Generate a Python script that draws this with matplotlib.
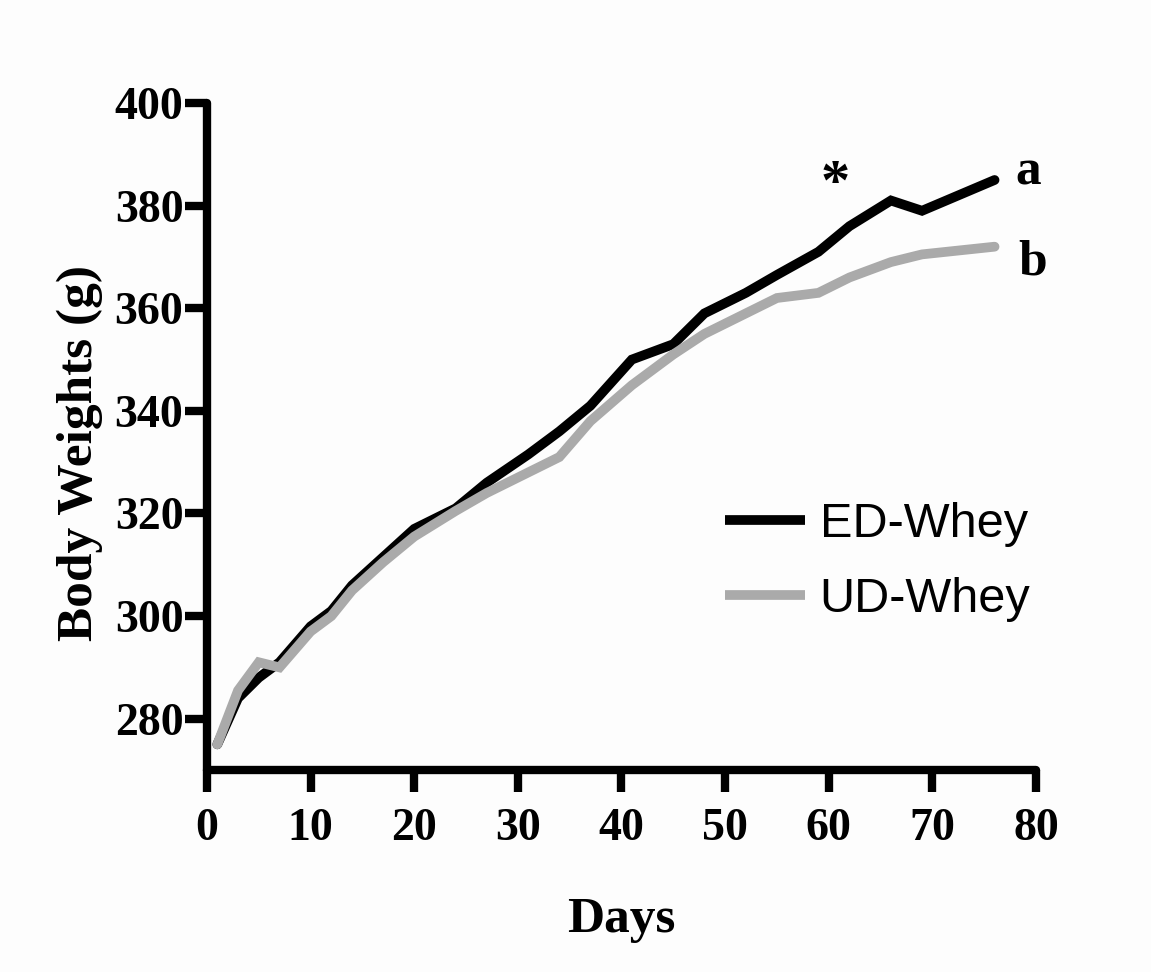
import matplotlib
matplotlib.use('Agg')
import matplotlib.pyplot as plt

# measurement days and mean body weights (g)
days = [1, 3, 5, 7, 10, 12, 14, 17, 20, 24, 27, 31, 34, 37, 41, 45, 48, 52, 55, 59, 62, 66, 69, 76]
ed_whey = [275, 284, 288, 291, 298, 301, 306, 311.5, 317, 321, 326, 331.5, 336, 341,
           350, 353, 359, 363, 366.5, 371, 376, 381, 379, 385]
ud_whey = [275, 285.5, 291, 290, 297, 300, 305, 310.5, 315.5, 320.5, 324, 328, 331, 338,
           345, 351, 355, 359, 362, 363, 366, 369, 370.5, 372]

x_ticks = [0, 10, 20, 30, 40, 50, 60, 70, 80]
y_ticks = [280, 300, 320, 340, 360, 380, 400]

serif = ['Liberation Serif', 'DejaVu Serif']
sans = ['Liberation Sans', 'DejaVu Sans']

fig = plt.figure(figsize=(11.51, 9.72), dpi=100)
fig.patch.set_facecolor('#fdfdfd')
ax = fig.add_axes([0.1798, 0.2078, 0.7203, 0.6862])
ax.set_facecolor('#fdfdfd')

ax.plot(days, ed_whey, color='black', lw=7, solid_capstyle='round',
        solid_joinstyle='miter', label='ED-Whey')
ax.plot(days, ud_whey, color='#aaaaaa', lw=7, solid_capstyle='round',
        solid_joinstyle='miter', label='UD-Whey')

ax.set_xlim(0, 80)
ax.set_ylim(270, 400)
ax.set_xticks(x_ticks)
ax.set_yticks(y_ticks)

for s in ['top', 'right']:
    ax.spines[s].set_visible(False)
for s in ['left', 'bottom']:
    ax.spines[s].set_linewidth(6)
    ax.spines[s].set_capstyle('round')

ax.tick_params(axis='both', length=16, width=6, direction='out')
ax.tick_params(axis='x', pad=11)
ax.tick_params(axis='y', pad=1)
for lab in ax.get_xticklabels() + ax.get_yticklabels():
    lab.set_family(serif)
    lab.set_fontweight('bold')
    lab.set_fontsize(33)

ax.set_xlabel('Days', family=serif, fontweight='bold', fontsize=37)
ax.set_ylabel('Body Weights (g)', family=serif, fontweight='bold', fontsize=37)
ax.xaxis.set_label_coords(0.5, -0.19)
ax.yaxis.set_label_coords(-0.125, 0.475)

# significance marks
ax.text(60.6, 384.0, '*', family=serif, fontweight='bold', fontsize=42,
        ha='center', va='center')
ax.text(79.2, 386.5, 'a', family=serif, fontweight='bold', fontsize=37,
        ha='center', va='center')
ax.text(79.7, 369, 'b', family=serif, fontweight='bold', fontsize=37,
        ha='center', va='center')

leg = ax.legend(loc='upper left', bbox_to_anchor=(0.572, 0.468), frameon=False,
                prop={'family': sans, 'size': 35}, handlelength=1.65,
                handletextpad=0.3, labelspacing=0.62)
for line in leg.get_lines():
    line.set_linewidth(7)
    line.set_solid_capstyle('butt')

fig.savefig('out.png', dpi=100, facecolor=fig.get_facecolor())
